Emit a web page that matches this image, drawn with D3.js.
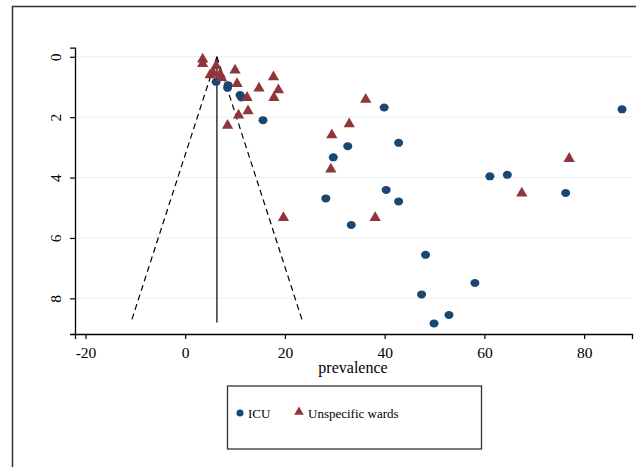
<!DOCTYPE html>
<html>
<head>
<meta charset="utf-8">
<script src="https://cdn.jsdelivr.net/npm/d3@7"></script>
<style>
  body { margin: 0; background: #fff; }
  text { font-family: "Liberation Serif", "Times New Roman", serif; }
</style>
</head>
<body>
<svg id="chart" width="636" height="467"></svg>
<script>
// ICU studies: prevalence vs standard error
const icuPrev = [39.9, 87.6, 32.6, 42.8, 29.7, 61.1, 64.6, 40.3, 28.2, 42.8, 76.3, 33.3,
  48.2, 58.1, 47.4, 52.9, 49.9, 8.5, 11.0, 11.3, 15.6, 6.2, 8.6];
const icuSe = [1.68, 1.74, 2.96, 2.85, 3.33, 3.96, 3.91, 4.41, 4.69, 4.79, 4.51, 5.57,
  6.56, 7.49, 7.87, 8.55, 8.83, 1.03, 1.27, 1.35, 2.1, 0.83, 0.94];

// Unspecific wards
const wardPrev = [36.2, 32.9, 29.4, 29.2, 77.0, 67.5, 38.1, 3.5, 3.5, 10.0, 17.7, 10.4,
  14.8, 18.7, 17.8, 12.4, 12.6, 10.7, 8.5, 19.7, 6.2, 5.6, 7.0, 7.3, 5.0];
const wardSe = [1.38, 2.19, 2.56, 3.69, 3.34, 4.49, 5.3, 0.05, 0.2, 0.41, 0.64, 0.86,
  1.01, 1.07, 1.32, 1.32, 1.76, 1.9, 2.24, 5.3, 0.27, 0.5, 0.55, 0.66, 0.57];

const xTicks = [-20, 0, 20, 40, 60, 80];
const yTicks = [0, 2, 4, 6, 8];
const pooled = 6.36;   // pooled estimate
const seMax = 8.8;     // bottom of the funnel

const svg = d3.select('#chart');

// outer frame
svg.append('path')
  .attr('d', 'M12.5,467 L12.5,6.5 L636,6.5')
  .attr('fill', 'none')
  .attr('stroke', '#333')
  .attr('stroke-width', 1.5);

const x = d3.scaleLinear().domain([-22.1, 89.6]).range([75, 632]);
const y = d3.scaleLinear().domain([-0.3, 9.18]).range([47.7, 334]);

// gridlines
svg.append('g').selectAll('line').data(yTicks).enter().append('line')
  .attr('x1', 75).attr('x2', 632)
  .attr('y1', d => y(d)).attr('y2', d => y(d))
  .attr('stroke', '#e6eff1').attr('stroke-width', 1);

// axes
const gx = svg.append('g')
  .attr('transform', `translate(0, ${y.range()[1]})`)
  .call(d3.axisBottom(x).tickValues(xTicks).tickFormat(d => String(d)).tickSize(5).tickPadding(8));
const gy = svg.append('g')
  .attr('transform', `translate(${x.range()[0]}, 0)`)
  .call(d3.axisLeft(y).tickValues(yTicks).tickFormat(d => String(d)).tickSize(5));

[gx, gy].forEach(g => {
  g.select('.domain').attr('stroke', '#000').attr('stroke-width', 1.3);
  g.selectAll('.tick line').attr('stroke', '#000').attr('stroke-width', 1.2);
  g.selectAll('.tick text').attr('fill', '#000').style('font-size', '15.5px');
});
// vertical y labels, reading bottom to top
gy.selectAll('.tick text')
  .attr('x', 0).attr('y', 0).attr('dy', '0.32em')
  .attr('transform', 'translate(-19, 0) rotate(-90)')
  .attr('text-anchor', 'middle');

// x label
svg.append('text')
  .attr('x', 353).attr('y', 373)
  .attr('text-anchor', 'middle')
  .style('font-size', '16px')
  .text('prevalence');

// funnel
svg.append('line')
  .attr('x1', x(pooled)).attr('x2', x(pooled))
  .attr('y1', y(0)).attr('y2', y(seMax))
  .attr('stroke', '#000').attr('stroke-width', 1.2);
[-1, 1].forEach(s => {
  svg.append('line')
    .attr('x1', x(pooled)).attr('y1', y(0))
    .attr('x2', x(pooled + s * 1.96 * seMax)).attr('y2', y(seMax))
    .attr('stroke', '#000').attr('stroke-width', 1.2)
    .attr('stroke-dasharray', '6,4');
});

const blue = '#1a476f';
const red = '#90353b';
const tri = d3.symbol().type(d3.symbolTriangle).size(55);

// ICU points
svg.append('g').selectAll('ellipse').data(d3.range(icuPrev.length)).enter().append('ellipse')
  .attr('cx', i => x(icuPrev[i]))
  .attr('cy', i => y(icuSe[i]))
  .attr('rx', 4.5).attr('ry', 4)
  .attr('fill', blue);

// unspecific wards
svg.append('g').selectAll('path').data(d3.range(wardPrev.length)).enter().append('path')
  .attr('d', tri)
  .attr('transform', i => `translate(${x(wardPrev[i])}, ${y(wardSe[i]) + 1})`)
  .attr('fill', red);

// legend
const lg = svg.append('g');
lg.append('rect')
  .attr('x', 227.5).attr('y', 386).attr('width', 254).attr('height', 63)
  .attr('fill', 'none').attr('stroke', '#333').attr('stroke-width', 1.3);
lg.append('circle').attr('cx', 240).attr('cy', 413).attr('r', 3.5).attr('fill', blue);
lg.append('text').attr('x', 248).attr('y', 417.5).style('font-size', '13px').text('ICU');
lg.append('path').attr('d', d3.symbol().type(d3.symbolTriangle).size(40))
  .attr('transform', 'translate(299, 412)').attr('fill', red);
lg.append('text').attr('x', 308).attr('y', 417.5).style('font-size', '13px').text('Unspecific wards');
</script>
</body>
</html>
